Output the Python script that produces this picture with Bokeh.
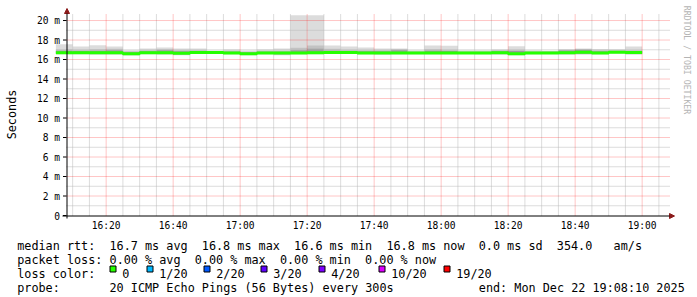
import math
import re
from bokeh.plotting import figure
from bokeh.models import Range1d, Label, Arrow, NormalHead, BoxAnnotation, ColumnDataSource
from bokeh.core.properties import value
from bokeh.embed import file_html
from bokeh.resources import INLINE

# ---------------- data ----------------
step_end = ["16:10", "16:15", "16:20", "16:25", "16:30", "16:35", "16:40", "16:45", "16:50",
            "16:55", "17:00", "17:05", "17:10", "17:15", "17:20", "17:25", "17:30", "17:35",
            "17:40", "17:45", "17:50", "17:55", "18:00", "18:05", "18:10", "18:15", "18:20",
            "18:25", "18:30", "18:35", "18:40", "18:45", "18:50", "18:55", "19:00"]
rtt_max = [17.57, 17.33, 17.47, 17.33, 16.96, 17.13, 17.23, 17.13, 17.13,
           16.92, 17.03, 16.92, 17.03, 17.13, 20.55, 20.55, 17.43, 17.33,
           17.23, 17.13, 17.13, 16.95, 17.43, 17.40, 16.94, 16.94, 17.03,
           17.35, 16.96, 16.90, 17.05, 17.13, 17.07, 17.06, 17.33]
rtt_p90 = [17.05, 17.00, 17.05, 17.10, 16.85, 16.95, 17.05, 16.95, 16.95,
           16.85, 16.90, 16.80, 16.90, 16.90, 17.20, 17.45, 17.10, 17.00,
           16.95, 16.95, 17.05, 16.85, 17.05, 17.00, 16.85, 16.85, 16.95,
           17.00, 16.85, 16.85, 17.00, 17.08, 16.95, 16.95, 16.95]
rtt_p75 = [16.90, 16.88, 16.90, 16.95, 16.75, 16.85, 16.95, 16.85, 16.85,
           16.80, 16.80, 16.72, 16.80, 16.80, 16.95, 17.10, 16.90, 16.85,
           16.85, 16.85, 16.95, 16.78, 16.90, 16.88, 16.78, 16.78, 16.85,
           16.88, 16.78, 16.78, 16.92, 17.00, 16.85, 16.85, 16.85]
rtt_med = [16.70, 16.70, 16.70, 16.70, 16.58, 16.70, 16.70, 16.63, 16.72,
           16.72, 16.66, 16.58, 16.66, 16.68, 16.68, 16.70, 16.72, 16.72,
           16.68, 16.68, 16.68, 16.66, 16.68, 16.68, 16.68, 16.66, 16.70,
           16.60, 16.66, 16.68, 16.70, 16.75, 16.68, 16.75, 16.72]
rtt_p25 = [16.62, 16.62, 16.62, 16.60, 16.50, 16.62, 16.62, 16.55, 16.65,
           16.65, 16.60, 16.50, 16.60, 16.55, 16.60, 16.62, 16.65, 16.65,
           16.60, 16.58, 16.62, 16.60, 16.60, 16.60, 16.62, 16.60, 16.60,
           16.52, 16.60, 16.62, 16.62, 16.60, 16.60, 16.68, 16.62]
rtt_min = [16.55, 16.55, 16.50, 16.50, 16.42, 16.55, 16.50, 16.45, 16.58,
           16.60, 16.55, 16.45, 16.55, 16.45, 16.55, 16.55, 16.58, 16.58,
           16.55, 16.50, 16.55, 16.55, 16.55, 16.55, 16.58, 16.55, 16.50,
           16.45, 16.55, 16.58, 16.50, 16.48, 16.55, 16.62, 16.50]

x_start_time = "16:08:10"
x_end_time = "19:08:10"
y_top = 20.72
x_tick_times = ["16:20", "16:40", "17:00", "17:20", "17:40", "18:00", "18:20", "18:40", "19:00"]
x_minor_times = ["16:10", "16:15", "16:25", "16:30", "16:35", "16:45", "16:50", "16:55",
                 "17:05", "17:10", "17:15", "17:25", "17:30", "17:35", "17:45", "17:50",
                 "17:55", "18:05", "18:10", "18:15", "18:25", "18:30", "18:35", "18:45",
                 "18:50", "18:55", "19:05"]
y_ticks = [0, 2, 4, 6, 8, 10, 12, 14, 16, 18, 20]
y_tick_labels = ["0", "2 m", "4 m", "6 m", "8 m", "10 m", "12 m", "14 m", "16 m", "18 m", "20 m"]
y_minor = [1, 3, 5, 7, 9, 11, 13, 15, 17, 19]

loss_labels = ["0", "1/20", "2/20", "3/20", "4/20", "10/20", "19/20"]
loss_colors = ["#26ff00", "#00b8ff", "#0059ff", "#5e00ff", "#7e00ff", "#dd00ff", "#ff0000"]

legend_row1 = "median rtt:  16.7 ms avg  16.8 ms max  16.6 ms min  16.8 ms now  0.0 ms sd  354.0   am/s"
legend_row2 = "packet loss: 0.00 % avg  0.00 % max  0.00 % min  0.00 % now"
legend_row3 = "loss color:"
legend_row4a = "probe:       20 ICMP Echo Pings (56 Bytes) every 300s"
legend_row4b = "end: Mon Dec 22 19:08:10 2025"
y_title = "Seconds"
watermark = "RRDTOOL / TOBI OETIKER"


def to_min(s):
    parts = [int(v) for v in s.split(":")]
    while len(parts) < 3:
        parts.append(0)
    return parts[0] * 60 + parts[1] + parts[2] / 60.0


t_end = [to_min(s) for s in step_end]
t_start = [t - 5 for t in t_end]
t0, t1 = to_min(x_start_time), to_min(x_end_time)

# ---------------- geometry (canvas pixels) ----------------
W, H = 697, 297
PL, PR, PT, PB = 66, 669, 13, 215      # rrd plot area
px_per_min = (PR - PL) / (t1 - t0)
px_per_ms = (PB - PT) / y_top
FONT = "DejaVu Sans Mono"
LEG_SIZE = "11.8px"
CW = 7.1                               # legend character advance


def dx(px):
    return px / px_per_min


def dy(px):
    return px / px_per_ms


p = figure(width=W, height=H, output_backend="svg", toolbar_location=None, min_border=0,
           x_range=Range1d(t0 - dx(PL), t0 + dx(W - PL)),
           y_range=Range1d(-dy(H - PB), dy(PB)))
p.axis.visible = False
p.xgrid.visible = False
p.ygrid.visible = False
p.background_fill_color = "white"
p.border_fill_color = "white"
p.outline_line_color = None

# smoke
src = ColumnDataSource(dict(l=t_start, r=t_end, mx=rtt_max, p90=rtt_p90, p75=rtt_p75,
                            p25=rtt_p25, mn=rtt_min))
p.quad(left="l", right="r", bottom="mn", top="mx", source=src, fill_color="#dcdcdc", line_color=None)
p.quad(left="l", right="r", bottom="p25", top="p90", source=src, fill_color="#c2c2c2", line_color=None)
p.quad(left="l", right="r", bottom="p25", top="p75", source=src, fill_color="#9a9a9a", line_color=None)

# dotted grid limited to the plot area
xmin = [to_min(s) for s in x_minor_times]
xmaj = [to_min(s) for s in x_tick_times]
p.segment(x0=xmin, x1=xmin, y0=[0] * len(xmin), y1=[y_top] * len(xmin),
          line_color="#b8b8b8", line_width=1, line_dash="1 1")
p.segment(x0=[t0] * len(y_minor), x1=[t1] * len(y_minor), y0=y_minor, y1=y_minor,
          line_color="#b8b8b8", line_width=1, line_dash="1 1")
p.segment(x0=xmaj, x1=xmaj, y0=[0] * len(xmaj), y1=[y_top] * len(xmaj),
          line_color="#ff0000", line_alpha=0.45, line_width=1, line_dash="1 1")
p.segment(x0=[t0] * (len(y_ticks) - 1), x1=[t1] * (len(y_ticks) - 1), y0=y_ticks[1:], y1=y_ticks[1:],
          line_color="#ff0000", line_alpha=0.45, line_width=1, line_dash="1 1")

# median
xs = t_start + [t_end[-1]]
ys = rtt_med + [rtt_med[-1]]
p.step(x=xs, y=ys, mode="after", line_color="#26ff00", line_width=3)

# y ticks and tick labels
p.segment(x0=[t0 - dx(3.5)] * len(y_ticks), x1=[t0] * len(y_ticks), y0=y_ticks, y1=y_ticks,
          line_color="black", line_width=1)
p.text(x=[t0 - dx(6.5)] * len(y_ticks), y=y_ticks, text=y_tick_labels,
       text_font=value(FONT), text_font_size="9.6px", text_color="black",
       text_align="right", text_baseline="middle")
# x tick labels
p.text(x=xmaj, y=[-dy(9.5)] * len(xmaj), text=x_tick_times,
       text_font=value(FONT), text_font_size="9.6px", text_color="black",
       text_align="center", text_baseline="middle")

# axis lines with arrow heads (screen units: from bottom-left, y up)
arrow_col = "#8b1a1a"
p.add_layout(Arrow(x_start=PL + 0.5, y_start=H - 218, x_end=PL + 0.5, y_end=H - 8,
                   start_units="screen", end_units="screen", line_color="black", line_width=1,
                   start=None, end=NormalHead(size=5, fill_color=arrow_col, line_color=arrow_col)))
p.add_layout(Arrow(x_start=62, y_start=H - PB - 0.5, x_end=674, y_end=H - PB - 0.5,
                   start_units="screen", end_units="screen", line_color="black", line_width=1,
                   start=None, end=NormalHead(size=5, fill_color=arrow_col, line_color=arrow_col)))


def lab(text, cx, cy, size=LEG_SIZE, color="black", angle=0.0, align="left", baseline="alphabetic"):
    p.add_layout(Label(x=cx, y=H - cy, x_units="screen", y_units="screen", text=text,
                       text_font=FONT, text_font_size=size, text_color=color, angle=angle,
                       text_align=align, text_baseline=baseline))


lab(y_title, 11, 114, angle=math.pi / 2, align="center", baseline="middle")
lab(watermark, 686, 59.5, size="8.2px", color="#b4b4b4", angle=-math.pi / 2,
    align="center", baseline="middle")


def lab_row(text, x0, cy):
    # monospace row: place each run of non-blank characters at its column
    for m in re.finditer(r"\S+(?: \S+)*", text):
        lab(m.group(0), x0 + m.start() * CW, cy)


LX = 16.7
lab_row(legend_row1, LX, 245)
lab_row(legend_row2, LX, 259)
lab_row(legend_row3, LX, 273)
lab_row(legend_row4a, LX, 287)
lab(legend_row4b, 478.3, 287)

box_x = [109, 146, 203, 260, 318, 378, 443]
for bx, c, t in zip(box_x, loss_colors, loss_labels):
    p.add_layout(BoxAnnotation(left=bx + 0.5, right=bx + 6.5, top=H - 265.5, bottom=H - 271.5,
                               left_units="screen", right_units="screen", top_units="screen",
                               bottom_units="screen", fill_color=c, fill_alpha=1.0,
                               line_color="black", line_width=1, line_alpha=1.0))
    lab(t, bx + 12.7, 273)

open("out.html", "w").write(file_html(p, INLINE))
